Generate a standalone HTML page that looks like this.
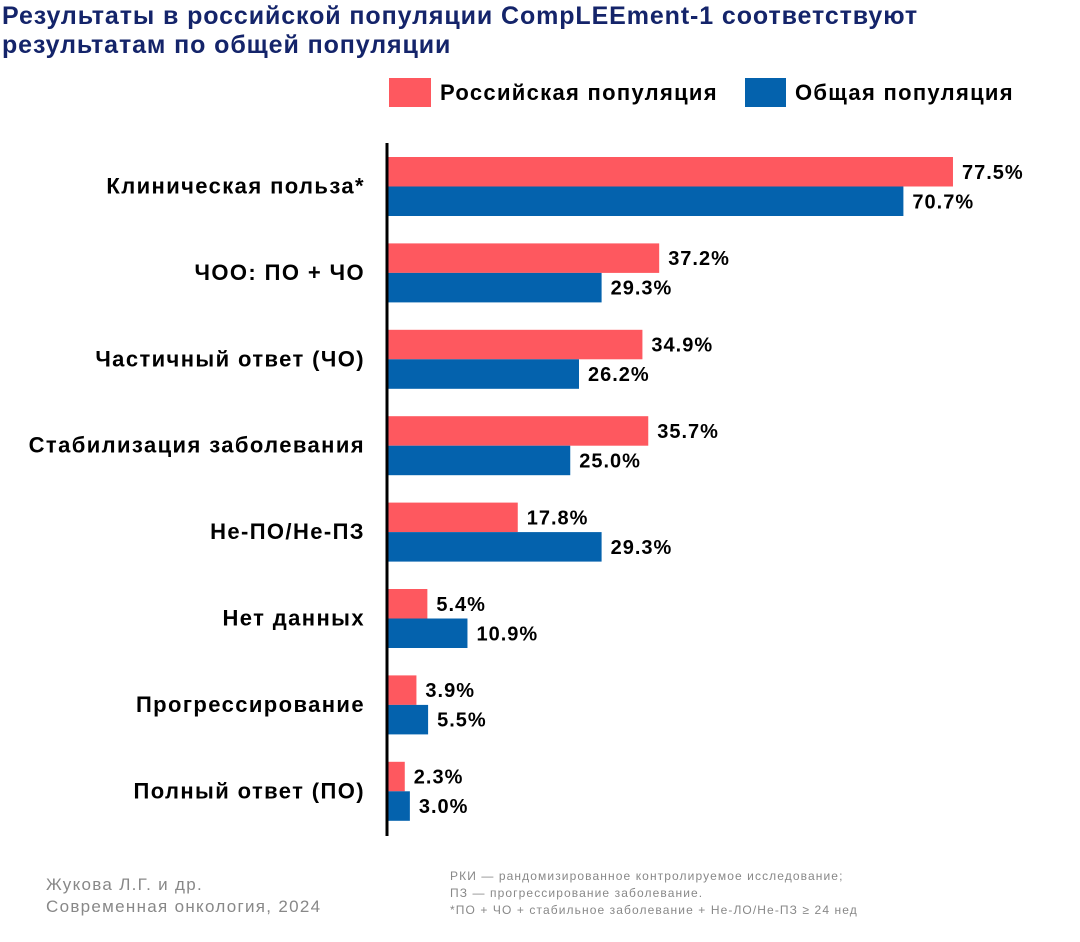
<!DOCTYPE html>
<html><head><meta charset="utf-8"><style>
body{margin:0;width:1080px;height:942px;background:#fff;font-family:"Liberation Sans","Noto Sans CJK SC",sans-serif;position:relative;overflow:hidden}
.t{position:absolute;white-space:nowrap}
</style></head><body>
<div class="t" style="left:2px;top:2px;font-size:25px;font-weight:bold;color:#14246a;line-height:29px;letter-spacing:0.9px">Результаты в российской популяции CompLEEment-1 соответствуют<br>результатам по общей популяции</div>
<div>
<div style="position:absolute;left:389px;top:78px;width:42px;height:29px;background:#fe585f"></div>
<div class="t" style="left:440px;top:80px;font-size:22px;font-weight:bold;letter-spacing:1.3px">Российская популяция</div>
<div style="position:absolute;left:745px;top:78px;width:41px;height:29px;background:#0462ad"></div>
<div class="t" style="left:795px;top:80px;font-size:22px;font-weight:bold;letter-spacing:1.3px">Общая популяция</div>
</div>
<svg id="chart" width="1080" height="942" style="position:absolute;left:0;top:0"></svg>
<div class="t" style="left:46px;top:874px;font-size:17px;color:#888;line-height:22px;letter-spacing:1.3px">Жукова Л.Г. и др.<br>Современная онкология, 2024</div>
<div class="t" style="left:450px;top:868px;font-size:12px;color:#888;line-height:17px;letter-spacing:1.1px">РКИ — рандомизированное контролируемое исследование;<br>ПЗ — прогрессирование заболевание.<br>*ПО + ЧО + стабильное заболевание + Не-ЛО/Не-ПЗ ≥ 24 нед</div>
<script>
const categories=["Клиническая польза*","ЧОО: ПО + ЧО","Частичный ответ (ЧО)","Стабилизация заболевания","Не-ПО/Не-ПЗ","Нет данных","Прогрессирование","Полный ответ (ПО)"];
const russian=[77.5,37.2,34.9,35.7,17.8,5.4,3.9,2.3];
const general=[70.7,29.3,26.2,25.0,29.3,10.9,5.5,3.0];
const NS="http://www.w3.org/2000/svg";
const svg=document.getElementById('chart');
const x0=388,k=7.29,top0=157,step=86.4,bh=29.5;
const xs=v=>x0+v*k;
function el(t,a){const e=document.createElementNS(NS,t);for(const n in a)e.setAttribute(n,a[n]);svg.appendChild(e);return e;}
categories.forEach((c,i)=>{
 const y=top0+i*step;
 const lab=el('text',{x:365,y:y+bh+7,'text-anchor':'end','font-size':22,'font-weight':'bold','letter-spacing':1.4,'font-family':'Liberation Sans, sans-serif'});
 lab.textContent=c;
 
 
 [[russian,'#fe585f',0],[general,'#0462ad',1]].forEach(([arr,col,j])=>{
  const yy=y+j*bh;
  const r=el('rect',{x:x0,y:yy,width:xs(arr[i])-x0,height:bh,fill:col});
  
  
  const t=el('text',{x:xs(arr[i])+9,y:yy+bh/2+7,'font-size':20,'font-weight':'bold','letter-spacing':1,'font-family':'Liberation Sans, sans-serif'});
  t.textContent=arr[i].toFixed(1)+'%';
  
  
 });
});
const ax=el('line',{x1:387,x2:387,y1:143,y2:836,stroke:'#000','stroke-width':3});


</script>
</body></html>
